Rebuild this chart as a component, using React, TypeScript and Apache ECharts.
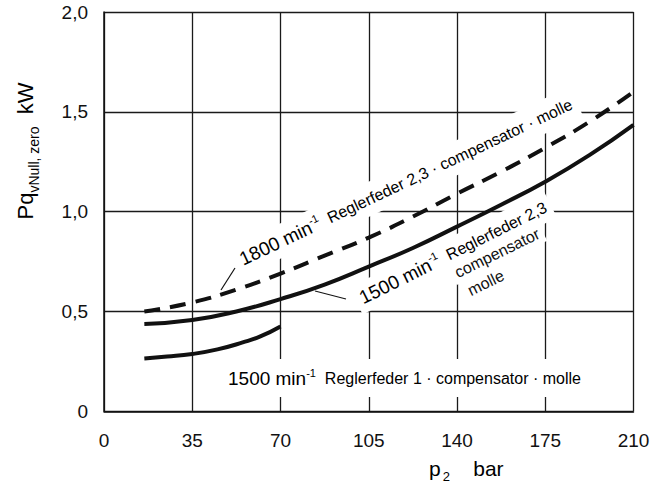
import React, { useEffect, useRef } from "react";
import * as echarts from "echarts";

// p2 (bar) and power (kW) for each curve
const p1800R23 = [16, 35, 52.5, 70, 87.5, 105, 122.5, 140, 157.5, 175, 192.5, 210];
const kw1800R23 = [0.5, 0.545, 0.61, 0.69, 0.78, 0.87, 0.975, 1.09, 1.2, 1.32, 1.45, 1.6];

const p1500R23 = [16, 35, 52.5, 70, 87.5, 105, 122.5, 140, 157.5, 175, 192.5, 210];
const kw1500R23 = [0.437, 0.457, 0.5, 0.562, 0.635, 0.725, 0.818, 0.925, 1.035, 1.15, 1.283, 1.435];

const p1500R1 = [16, 25, 35, 45, 55, 62, 70];
const kw1500R1 = [0.265, 0.274, 0.287, 0.31, 0.345, 0.375, 0.425];

const xTicks = [0, 35, 70, 105, 140, 175, 210];
const yTicks = [0, 0.5, 1.0, 1.5, 2.0];

const FONT = "'Liberation Sans', Arial, Helvetica, sans-serif";
const INK = "#111";

const pairs = (xs: number[], ys: number[]) => xs.map((x, i) => [x, ys[i]]);
const deg = (d: number) => (d * Math.PI) / 180;

export default function App() {
  const ref = useRef<HTMLDivElement>(null);
  useEffect(() => {
    if (!ref.current) return;
    const chart = echarts.init(ref.current, null, { renderer: "svg" });
    const big = { fontSize: 19, fontFamily: FONT, color: INK, lineHeight: 22 };
    const sup = { fontSize: 11, fontFamily: FONT, color: INK, verticalAlign: "top", lineHeight: 11 };
    const sm = { fontSize: 16, fontFamily: FONT, color: INK, lineHeight: 22 };
    const curve = (xs: number[], ys: number[], dashed: boolean) => ({
      type: "line",
      z: 5,
      data: pairs(xs, ys),
      smooth: 0.5,
      symbol: "none",
      lineStyle: dashed
        ? { color: INK, width: 4, type: [16, 10], cap: "butt" }
        : { color: INK, width: 4 },
    });
    chart.setOption({
      animation: false,
      backgroundColor: "#fff",
      grid: { left: 104, right: 27.5, top: 12, bottom: 74.7, containLabel: false },
      xAxis: {
        type: "value",
        min: xTicks[0],
        max: xTicks[xTicks.length - 1],
        interval: 35,
        axisLine: { show: true, lineStyle: { color: INK, width: 1.5 } },
        axisTick: { show: false },
        splitLine: { show: true, lineStyle: { color: "#1a1a1a", width: 1.3 } },
        axisLabel: { color: INK, fontSize: 19, fontFamily: FONT, margin: 20 },
      },
      yAxis: {
        type: "value",
        min: yTicks[0],
        max: yTicks[yTicks.length - 1],
        interval: 0.5,
        axisLine: { show: true, lineStyle: { color: INK, width: 1.5 } },
        axisTick: { show: false },
        splitLine: { show: true, lineStyle: { color: "#1a1a1a", width: 1.3 } },
        axisLabel: {
          color: INK,
          fontSize: 19,
          fontFamily: FONT,
          margin: 16,
          formatter: (v: number) => (v === 0 ? "0" : v.toFixed(1).replace(".", ",")),
        },
      },
      series: [
        curve(p1800R23, kw1800R23, true),
        curve(p1500R23, kw1500R23, false),
        curve(p1500R1, kw1500R1, false),
      ],
      graphic: [
        {
          type: "text",
          x: 25,
          y: 151,
          rotation: Math.PI / 2,
          z: 1,
          style: {
            text: "{m|Pq}{s|vNull, zero}{m|  kW}",
            align: "center",
            verticalAlign: "middle",
            rich: {
              m: { fontSize: 22, fontFamily: FONT, color: INK, lineHeight: 32 },
              s: { fontSize: 14, fontFamily: FONT, color: INK, verticalAlign: "bottom", lineHeight: 14 },
            },
          },
        },
        {
          type: "text",
          x: 429,
          y: 468,
          z: 1,
          style: {
            text: "{m|p}{s|2}{m|    bar}",
            align: "left",
            verticalAlign: "middle",
            rich: {
              m: { fontSize: 21, fontFamily: FONT, color: INK, lineHeight: 30 },
              s: { fontSize: 13, fontFamily: FONT, color: INK, verticalAlign: "bottom", lineHeight: 13, padding: [0, 0, 0, 2] },
            },
          },
        },
        {
          type: "text",
          x: 236,
          y: 262,
          rotation: deg(25.3),
          z: 1,
          style: {
            text: "{b|1800 min}{u|-1}{s|  Reglerfeder 2,3 · compensator · molle}",
            align: "left",
            verticalAlign: "middle",
            backgroundColor: "#fff",
            padding: [5, 5],
            rich: { b: big, u: sup, s: sm },
          },
        },
        {
          type: "text",
          x: 452,
          y: 275,
          rotation: deg(26),
          z: 1,
          style: {
            text: "compensator",
            align: "left",
            verticalAlign: "middle",
            backgroundColor: "#fff",
            padding: [3, 4],
            fontSize: 16,
            fontFamily: FONT,
            fill: INK,
          },
        },
        {
          type: "text",
          x: 465,
          y: 293,
          rotation: deg(26),
          z: 1,
          style: {
            text: "molle",
            align: "left",
            verticalAlign: "middle",
            backgroundColor: "#fff",
            padding: [3, 4],
            fontSize: 16,
            fontFamily: FONT,
            fill: INK,
          },
        },
        {
          type: "text",
          x: 356,
          y: 301,
          rotation: deg(26.5),
          z: 2,
          style: {
            text: "{b|1500 min}{u|-1}{s|  Reglerfeder 2,3}",
            align: "left",
            verticalAlign: "middle",
            backgroundColor: "#fff",
            padding: [4, 5],
            rich: { b: big, u: sup, s: sm },
          },
        },
        {
          type: "text",
          x: 222,
          y: 378,
          z: 1,
          style: {
            text: "{b|1500 min}{u|-1}{s|  Reglerfeder 1 · compensator · molle}",
            align: "left",
            verticalAlign: "middle",
            backgroundColor: "#fff",
            padding: [8, 6],
            rich: { b: big, u: sup, s: sm },
          },
        },
        {
          type: "line",
          z: 3,
          shape: { x1: 235, y1: 268, x2: 221, y2: 290 },
          style: { stroke: INK, lineWidth: 1.2 },
        },
        {
          type: "line",
          z: 3,
          shape: { x1: 346, y1: 299, x2: 315, y2: 291 },
          style: { stroke: INK, lineWidth: 1.2 },
        },
      ],
    });
    return () => chart.dispose();
  }, []);
  return (
    <div
      ref={ref}
      style={{ position: "fixed", left: 0, top: 0, width: 661, height: 486, background: "#fff" }}
    />
  );
}
